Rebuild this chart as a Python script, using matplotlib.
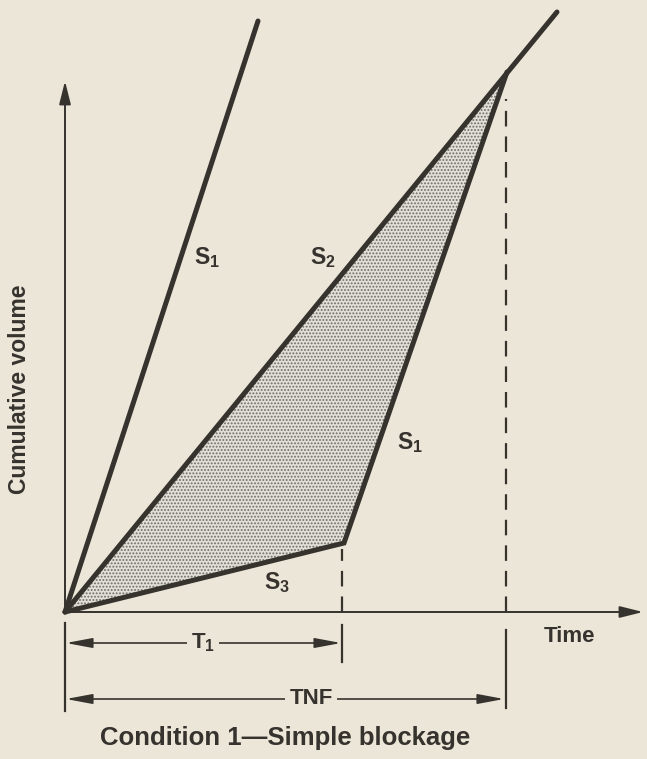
import numpy as np
import matplotlib.pyplot as plt
from matplotlib.patches import Polygon

# colours of the old print
bg = '#ece6d8'
ink = '#36322e'

plt.rcParams['font.family'] = ['Liberation Sans', 'DejaVu Sans']
plt.rcParams['mathtext.fontset'] = 'custom'
plt.rcParams['mathtext.rm'] = 'Liberation Sans:bold'
plt.rcParams['mathtext.bf'] = 'Liberation Sans:bold'
plt.rcParams['mathtext.default'] = 'bf'
plt.rcParams['hatch.linewidth'] = 0.9

# the key times (time units) and cumulative volumes
t1 = 2.79          # end of blockage
tnf = 4.42         # time when no more effect (TNF)
v_t1 = 0.69        # volume reached at t1 along S3
v_tnf = 5.40       # volume where S1 catches S2

# end points of the free lines
s1_line_t = [0, 1.93]
s1_line_v = [0, 5.91]
s2_line_t = [0, 4.92]
s2_line_v = [0, 6.00]

# the arrival curve with blockage: S3 then S1
blk_t = [0, t1, tnf]
blk_v = [0, v_t1, v_tnf]

x_axis_end = 5.78
y_axis_end = 5.31

fig = plt.figure(figsize=(6.47, 7.59), dpi=100, facecolor=bg)
ax = fig.add_axes([0, 0, 1, 1])
ax.set_facecolor(bg)
ax.set_xlim(-0.65, 5.82)
ax.set_ylim(-1.47, 6.12)
ax.axis('off')

# shaded delay area (dot screen)
tri = Polygon(list(zip(blk_t, blk_v)), closed=True, facecolor='#e2dfd8',
              edgecolor='#6f6b66', hatch='.....', linewidth=0, zorder=1)
ax.add_patch(tri)

# axes with arrows
ax.annotate('', xy=(x_axis_end, 0), xytext=(0, 0),
            arrowprops=dict(arrowstyle='-|>,head_length=1.4,head_width=0.35',
                            color=ink, lw=1.4, shrinkA=0, shrinkB=0))
ax.annotate('', xy=(0, y_axis_end), xytext=(0, 0),
            arrowprops=dict(arrowstyle='-|>,head_length=1.4,head_width=0.35',
                            color=ink, lw=1.4, shrinkA=0, shrinkB=0))

# the lines
lw = 3.6
ax.plot(s1_line_t, s1_line_v, color=ink, lw=lw, solid_capstyle='round', zorder=3)
ax.plot(s2_line_t, s2_line_v, color=ink, lw=lw, solid_capstyle='round', zorder=3)
ax.plot(blk_t, blk_v, color=ink, lw=lw, solid_capstyle='round',
        solid_joinstyle='miter', zorder=3)

# dashed drops to the time axis
ax.plot([t1 - 0.02, t1 - 0.02], [0, v_t1 - 0.06], color=ink, lw=1.6,
        dashes=(7, 4.5), zorder=2)
ax.plot([tnf - 0.01, tnf - 0.01], [0, v_tnf - 0.27], color=ink, lw=1.6,
        dashes=(7, 4.5), zorder=2)

# dimension lines under the axis
ax.plot([0, 0], [-0.11, -0.99], color=ink, lw=1.6)
ax.plot([t1 - 0.02, t1 - 0.02], [-0.13, -0.50], color=ink, lw=1.6)
ax.plot([tnf - 0.01, tnf - 0.01], [-0.18, -0.96], color=ink, lw=1.6)

arr = dict(arrowstyle='<|-|>,head_length=1.6,head_width=0.3', color=ink, lw=1.2,
           shrinkA=0, shrinkB=0)
ax.annotate('', xy=(t1 - 0.03, -0.31), xytext=(0.01, -0.31), arrowprops=arr)
ax.annotate('', xy=(tnf - 0.03, -0.87), xytext=(0.01, -0.87), arrowprops=arr)

box = dict(facecolor=bg, edgecolor='none', pad=3)
ax.text(1.38, -0.31, 'T$_1$', fontsize=16, color=ink, ha='center', va='center',
        fontweight='bold', bbox=box, zorder=4)
ax.text(2.46, -0.87, 'TNF', fontsize=16, color=ink, ha='center', va='center',
        fontweight='bold', bbox=box, zorder=4)

# line labels
labels = ['S$_1$', 'S$_2$', 'S$_1$', 'S$_3$']
label_t = [1.42, 2.58, 3.45, 2.12]
label_v = [3.54, 3.54, 1.69, 0.29]
for lab, lt, lv in zip(labels, label_t, label_v):
    ax.text(lt, lv, lab, fontsize=16.5, color=ink, ha='center', va='center',
            fontweight='bold')

# axis titles and caption
ax.text(5.04, -0.25, 'Time', fontsize=16, color=ink, ha='center', va='center',
        fontweight='bold')
ax.text(-0.45, 2.23, 'Cumulative volume', fontsize=16.5, color=ink, ha='center',
        va='center', rotation=90, fontweight='bold')
ax.text(2.2, -1.26, 'Condition 1\u2014Simple blockage', fontsize=18.5, color=ink,
        ha='center', va='center', fontweight='bold')

plt.savefig('out.png', dpi=100, facecolor=bg)
